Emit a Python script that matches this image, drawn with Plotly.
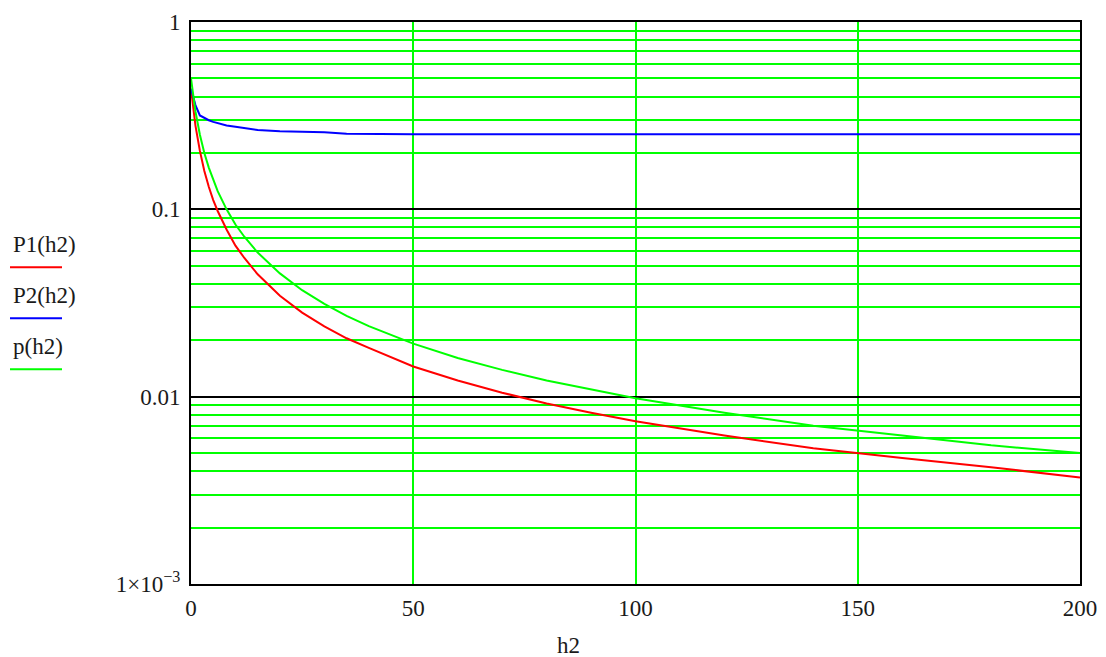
import plotly.graph_objects as go

# ---- data ----
h2 = [0, 1, 2, 3, 4, 5, 6, 8, 10, 12, 15, 20, 25, 30, 35, 40, 50, 60, 70, 80, 90,
      100, 120, 140, 160, 180, 200]
P1 = [0.44, 0.28, 0.205, 0.16, 0.132, 0.112, 0.098, 0.078, 0.064, 0.055, 0.045, 0.0346,
      0.0281, 0.0237, 0.0205, 0.0182, 0.0145, 0.0122, 0.0105, 0.0092, 0.0082,
      0.0074, 0.0062, 0.0053, 0.0047, 0.0042, 0.0037]
P2 = [0.44, 0.36, 0.317, 0.307, 0.299, 0.293, 0.288, 0.280, 0.276, 0.272, 0.265, 0.261,
      0.259, 0.258, 0.253, 0.252, 0.252, 0.252, 0.252, 0.252, 0.252,
      0.252, 0.252, 0.252, 0.252, 0.252, 0.252]
p = [0.5, 0.333, 0.25, 0.2, 0.167, 0.143, 0.125, 0.1, 0.083, 0.0714, 0.0588, 0.0455,
     0.037, 0.0313, 0.027, 0.0238, 0.0192, 0.0161, 0.0139, 0.0122, 0.0109,
     0.0098, 0.0082, 0.0070, 0.0062, 0.0055, 0.0050]

x_ticks = [0, 50, 100, 150, 200]
y_major = [0.001, 0.01, 0.1, 1]
y_major_text = ["1×10<sup>−3</sup>", "0.01", "0.1", "1"]
y_minor = [k * d for d in (0.001, 0.01, 0.1) for k in range(2, 10)]

series_names = ["P1(h2)", "P2(h2)", "p(h2)"]
series_colors = ["#ff0000", "#0000ff", "#00ff00"]

FONT = "Liberation Serif"
FS = 23
GRID_GREEN = "#00ff00"

fig = go.Figure()
for name, ys, col in zip(series_names, [P1, P2, p], series_colors):
    fig.add_trace(go.Scatter(x=h2, y=ys, mode="lines", name=name,
                             line=dict(color=col, width=2), showlegend=False))

OFF = 8  # page body margin
L, R, T, B = 191, 1080, 21.5, 584
W, H = 1106 - OFF, 657 - OFF
pw, ph = R - L, B - T

def px(xp):
    return (xp - L) / pw

def py(yp):
    return 1 - (yp - T) / ph

fig.update_layout(
    width=W, height=H,
    margin=dict(l=L - OFF, r=W - (R - OFF), t=T - OFF, b=H - (B - OFF), autoexpand=False),
    paper_bgcolor="white", plot_bgcolor="white",
    font=dict(family=FONT, size=FS, color="#1a1a1a"),
    xaxis=dict(range=[0, 200], tickvals=x_ticks, showgrid=True, automargin=False,
               gridcolor=GRID_GREEN, gridwidth=2, zeroline=False,
               showline=True, linecolor="black", linewidth=2, mirror=True,
               ticks="", ticklabelstandoff=2),
    yaxis=dict(type="log", range=[-3, 0], tickvals=y_major, ticktext=y_major_text,
               automargin=False,
               showgrid=True, gridcolor="black", gridwidth=2, zeroline=False,
               showline=True, linecolor="black", linewidth=2, mirror=True,
               ticks="", ticklabelstandoff=4,
               minor=dict(tickvals=y_minor, showgrid=True, gridcolor=GRID_GREEN,
                          gridwidth=2, ticks="")),
)

# x-axis title
fig.add_annotation(text="h2", xref="paper", yref="paper", x=px(568), y=py(646),
                   xanchor="center", yanchor="middle", showarrow=False,
                   font=dict(family=FONT, size=FS, color="#1a1a1a"))

# legend on the left: label with coloured line under it
text_y = [244, 295, 346]
line_y = [267, 318, 369]
for name, col, ty, ly in zip(series_names, series_colors, text_y, line_y):
    fig.add_annotation(text=name, xref="paper", yref="paper", x=px(11), y=py(ty),
                       xanchor="left", yanchor="middle", showarrow=False,
                       font=dict(family=FONT, size=FS, color="#1a1a1a"))
    fig.add_shape(type="line", xref="paper", yref="paper",
                  x0=px(10), x1=px(62), y0=py(ly), y1=py(ly),
                  line=dict(color=col, width=2))

fig.write_html("out.html")
